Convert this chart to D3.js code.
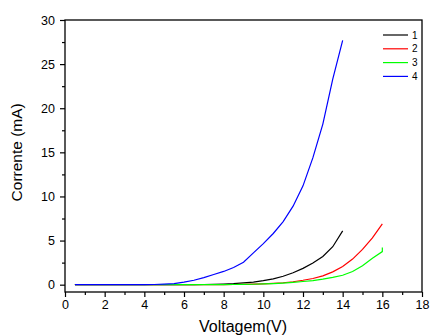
<!DOCTYPE html>
<html>
<head>
<meta charset="utf-8">
<script src="https://cdn.jsdelivr.net/npm/d3@7"></script>
<style>
  body { margin: 0; background: #fff; }
  text { font-family: "Liberation Sans", Arial, sans-serif; fill: #000; }
</style>
</head>
<body>
<div id="chart"></div>
<script>
var width = 430;
var height = 335;

// voltage steps
var volts14 = [0.5,1,1.5,2,2.5,3,3.5,4,4.5,5,5.5,6,6.5,7,7.5,8,8.5,9,9.5,10,10.5,11,11.5,12,12.5,13,13.5,14];
var volts16 = [0.5,1,1.5,2,2.5,3,3.5,4,4.5,5,5.5,6,6.5,7,7.5,8,8.5,9,9.5,10,10.5,11,11.5,12,12.5,13,13.5,14,14.5,15,15.5,16];
var volts16b = [0.5,1,1.5,2,2.5,3,3.5,4,4.5,5,5.5,6,6.5,7,7.5,8,8.5,9,9.5,10,10.5,11,11.5,12,12.5,13,13.5,14,14.5,15,15.5,16,16];

var curve1 = [0,0,0,0,0,0,0,0,0,0,0,0,0.01,0.02,0.04,0.07,0.12,0.2,0.3,0.45,0.65,0.95,1.35,1.85,2.45,3.2,4.3,6.1];
var curve2 = [0,0,0,0,0,0,0,0,0,0,0,0,0,0,0.01,0.01,0.02,0.04,0.07,0.1,0.15,0.22,0.33,0.5,0.7,1.0,1.45,2.05,2.9,4.0,5.3,6.9];
var curve3 = [0,0,0,0,0,0,0,0,0,0,0,0,0,0,0,0.01,0.02,0.03,0.05,0.08,0.12,0.18,0.26,0.36,0.47,0.62,0.82,1.07,1.5,2.15,3.0,3.75,4.2];
var curve4 = [0,0,0,0,0,0,0,0,0.02,0.06,0.12,0.28,0.5,0.8,1.15,1.5,1.95,2.55,3.6,4.65,5.8,7.15,8.9,11.2,14.4,18.2,23.3,27.7];

var labels = ["1", "2", "3", "4"];
var colors = ["#000000", "#ff0000", "#00ff00", "#0000ff"];

var xTicks = [0,2,4,6,8,10,12,14,16,18];
var yTicks = [0,5,10,15,20,25,30];

var series = [
  {name: labels[0], x: volts14, y: curve1, color: colors[0]},
  {name: labels[1], x: volts16, y: curve2, color: colors[1]},
  {name: labels[2], x: volts16b, y: curve3, color: colors[2]},
  {name: labels[3], x: volts14, y: curve4, color: colors[3]}
];

var margin = {left: 65, right: 8, top: 20, bottom: 43};

var svg = d3.select("#chart")
  .append("svg")
  .attr("width", width)
  .attr("height", height);

var x = d3.scaleLinear().domain([0, 18]).range([margin.left, width - margin.right]);
var y = d3.scaleLinear().domain([-0.83, 30]).range([height - margin.bottom, margin.top]);

// frame
svg.append("rect")
  .attr("x", margin.left)
  .attr("y", margin.top)
  .attr("width", x(18) - margin.left)
  .attr("height", y(-0.83) - margin.top)
  .attr("fill", "none")
  .attr("stroke", "#000")
  .attr("stroke-width", 1.3);

// minor ticks
var xMinor = d3.range(1, 18, 2);
var yMinor = d3.range(2.5, 30, 5);

var xAxis = svg.append("g")
  .attr("transform", "translate(0," + y(-0.83) + ")")
  .call(d3.axisBottom(x).tickValues(xTicks).tickSize(5).tickPadding(3).tickFormat(d3.format("d")));
xAxis.select(".domain").remove();
xAxis.selectAll("text").style("font-size", "12.5px");

svg.append("g")
  .attr("transform", "translate(0," + y(-0.83) + ")")
  .call(d3.axisBottom(x).tickValues(xMinor).tickSize(3).tickFormat(""))
  .select(".domain").remove();

var yAxis = svg.append("g")
  .attr("transform", "translate(" + margin.left + ",0)")
  .call(d3.axisLeft(y).tickValues(yTicks).tickSize(5).tickPadding(5).tickFormat(d3.format("d")));
yAxis.select(".domain").remove();
yAxis.selectAll("text").style("font-size", "12.5px");

svg.append("g")
  .attr("transform", "translate(" + margin.left + ",0)")
  .call(d3.axisLeft(y).tickValues(yMinor).tickSize(3).tickFormat(""))
  .select(".domain").remove();

svg.selectAll(".tick line").attr("stroke-width", 1.2);

// axis titles
svg.append("text")
  .attr("x", 243)
  .attr("y", 332)
  .attr("text-anchor", "middle")
  .style("font-size", "16px")
  .text("Voltagem(V)");

svg.append("text")
  .attr("transform", "translate(22," + y(15) + ") rotate(-90)")
  .attr("text-anchor", "middle")
  .style("font-size", "15.5px")
  .text("Corrente (mA)");

// curves
var line = d3.line()
  .x(function(d) { return x(d[0]); })
  .y(function(d) { return y(d[1]); });

series.forEach(function(s) {
  var pts = s.x.map(function(v, i) { return [v, s.y[i]]; });
  svg.append("path")
    .datum(pts)
    .attr("d", line)
    .attr("fill", "none")
    .attr("stroke", s.color)
    .attr("stroke-width", 1.2);
});

// legend
var legend = svg.append("g").attr("transform", "translate(383,35)");
series.forEach(function(s, i) {
  legend.append("line")
    .attr("x1", 0).attr("x2", 25)
    .attr("y1", i * 13.8).attr("y2", i * 13.8)
    .attr("stroke", s.color)
    .attr("stroke-width", 1.2);
  legend.append("text")
    .attr("x", 29)
    .attr("y", i * 13.8)
    .attr("dy", "0.35em")
    .style("font-size", "10px")
    .text(s.name);
});
</script>
</body>
</html>
